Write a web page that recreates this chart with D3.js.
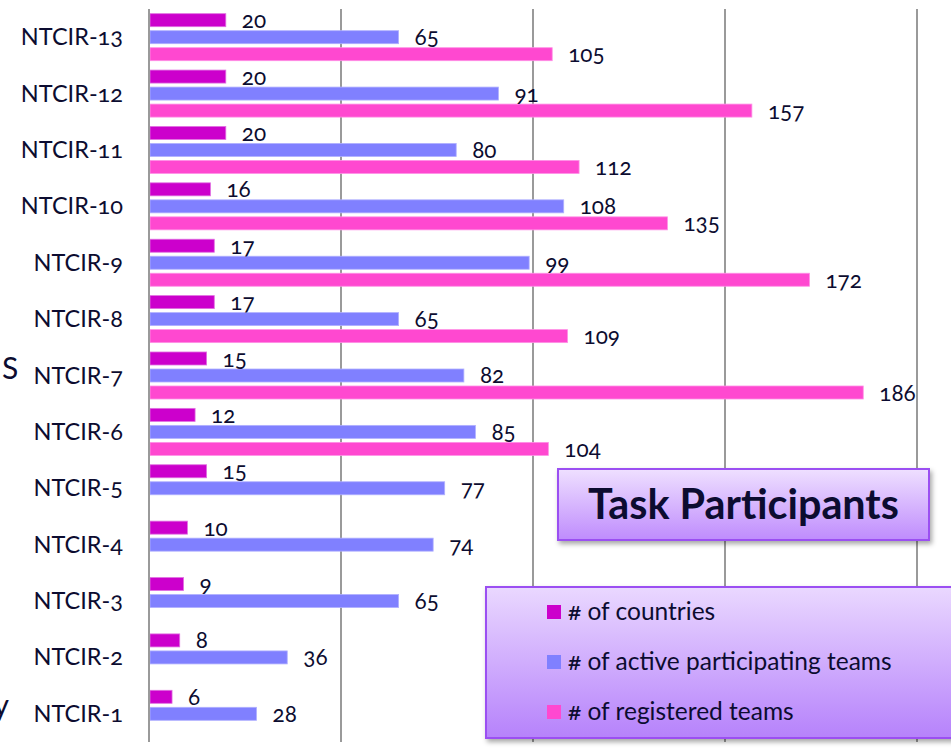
<!DOCTYPE html>
<html>
<head>
<meta charset="utf-8">
<script src="https://cdn.jsdelivr.net/npm/d3@7"></script>
<style>
  html, body { margin: 0; padding: 0; background: #fff; }
  svg { display: block; }
  text { font-family: Lato, "Open Sans", sans-serif; fill: #0c0c30; font-feature-settings: "onum" 1; }
</style>
</head>
<body>
<svg id="chart" width="951" height="749"></svg>
<script>
// ---- data (top to bottom as drawn) ----
const categories = ["NTCIR-13","NTCIR-12","NTCIR-11","NTCIR-10","NTCIR-9","NTCIR-8","NTCIR-7","NTCIR-6","NTCIR-5","NTCIR-4","NTCIR-3","NTCIR-2","NTCIR-1"];
const countries  = [20, 20, 20, 16, 17, 17, 15, 12, 15, 10, 9, 8, 6];
const activeTeams = [65, 91, 80, 108, 99, 65, 82, 85, 77, 74, 65, 36, 28];
const registeredTeams = [105, 157, 112, 135, 172, 109, 186, 104, null, null, null, null, null];
const seriesNames = ["# of countries", "# of active participating teams", "# of registered teams"];
const xTicks = [0, 50, 100, 150, 200];
const title = "Task Participants";

const seriesColors = ["#cc00cc", "#8080ff", "#ff48d0"];
const seriesEdge = ["#e070e0", "#b0b0ff", "#ff90e6"];
const series = [countries, activeTeams, registeredTeams];

const svg = d3.select("#chart");
const defs = svg.append("defs");

const x = d3.scaleLinear().domain([0, 200]).range([149, 917]);
const y0 = d3.scaleBand().domain(categories).range([9, 742]).paddingInner(0.166).paddingOuter(0.083);
const y1 = d3.scaleBand().domain([0, 1, 2]).range([0, y0.bandwidth()]).paddingInner(0.235).paddingOuter(0);

// gridlines
svg.append("g").selectAll("line").data(xTicks).join("line")
  .attr("x1", d => x(d)).attr("x2", d => x(d))
  .attr("y1", 9).attr("y2", 742)
  .attr("stroke", "#9a9a9a").attr("stroke-width", 2);

// bars
const rows = categories.map((c, i) => ({ c, vals: series.map(s => s[i]) }));
const groups = svg.append("g").selectAll("g").data(rows).join("g")
  .attr("transform", d => `translate(0,${y0(d.c)})`);

groups.selectAll("rect").data(d => d.vals.map((v, k) => ({ v, k })).filter(e => e.v != null)).join("rect")
  .attr("x", x(0) + 1)
  .attr("y", e => y1(e.k))
  .attr("width", e => x(e.v) - x(0) - 1)
  .attr("height", y1.bandwidth())
  .attr("fill", e => seriesColors[e.k])
  .attr("stroke", e => seriesEdge[e.k])
  .attr("stroke-width", 0.8);

groups.selectAll("text.val").data(d => d.vals.map((v, k) => ({ v, k })).filter(e => e.v != null)).join("text")
  .attr("class", "val")
  .attr("x", e => x(e.v) + 16)
  .attr("y", e => y1(e.k) + y1.bandwidth() / 2 + 8)
  .attr("font-size", 22.5)
  .text(e => e.v);

// category axis labels
svg.append("g").selectAll("text").data(categories).join("text")
  .attr("x", 123)
  .attr("y", d => y0(d) + y0.bandwidth() / 2 + 8)
  .attr("text-anchor", "end")
  .attr("font-size", 23.5)
  .text(d => d);

// axis line
svg.append("line").attr("x1", x(0)).attr("x2", x(0)).attr("y1", 9).attr("y2", 742)
  .attr("stroke", "#9a9a9a").attr("stroke-width", 2);

// partial slide text fragments at left edge
svg.append("text").attr("x", 2).attr("y", 379).attr("font-size", 30).text("S");
svg.append("text").attr("x", 9).attr("y", 716).attr("text-anchor", "end").attr("font-size", 30).text("y");

// filters / gradients
const sh = defs.append("filter").attr("id", "shadow").attr("x", "-10%").attr("y", "-10%").attr("width", "130%").attr("height", "140%");
sh.append("feDropShadow").attr("dx", 2).attr("dy", 3).attr("stdDeviation", 2.5).attr("flood-color", "#000").attr("flood-opacity", 0.35);

function grad(id, top, bottom) {
  const g = defs.append("linearGradient").attr("id", id).attr("x1", 0).attr("y1", 0).attr("x2", 0).attr("y2", 1);
  g.append("stop").attr("offset", "0%").attr("stop-color", top);
  g.append("stop").attr("offset", "100%").attr("stop-color", bottom);
}
grad("gTitle", "#efe0ff", "#bf8cfd");
grad("gLegend", "#ead8ff", "#b682fb");

// title box
svg.append("rect").attr("x", 558).attr("y", 469).attr("width", 371).attr("height", 71)
  .attr("fill", "url(#gTitle)").attr("stroke", "#9b4ff2").attr("stroke-width", 2).attr("filter", "url(#shadow)");
const tt = svg.append("text").attr("x", 743.5).attr("y", 519).attr("text-anchor", "middle")
  .attr("font-weight", "bold").attr("font-size", 36).text(title);
{
  const w = tt.node().getComputedTextLength();
  tt.attr("font-size", 36 * 311 / w);
}

// legend box
svg.append("rect").attr("x", 486).attr("y", 587).attr("width", 480).attr("height", 151)
  .attr("fill", "url(#gLegend)").attr("stroke", "#9b4ff2").attr("stroke-width", 2).attr("filter", "url(#shadow)");
const legRowY = [612, 662, 712];
const lg = svg.append("g").selectAll("g").data(seriesNames).join("g");
lg.append("rect").attr("x", 547).attr("y", (d, i) => legRowY[i] - 7).attr("width", 14).attr("height", 14)
  .attr("fill", (d, i) => seriesColors[i]);
lg.append("text").attr("x", 568).attr("y", (d, i) => legRowY[i] + 8).attr("font-size", 24.5).text(d => d);
</script>
</body>
</html>
